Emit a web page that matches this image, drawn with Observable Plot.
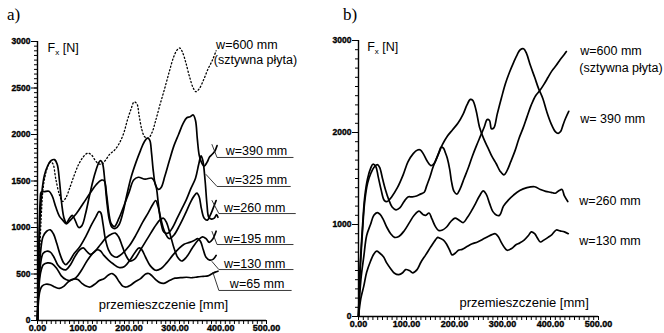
<!DOCTYPE html>
<html><head><meta charset="utf-8">
<script src="https://cdn.jsdelivr.net/npm/d3@7"></script>
<script src="https://cdn.jsdelivr.net/npm/@observablehq/plot@0.6"></script>
<style>
body{margin:0;background:#fff;}
#wrap{position:relative;width:664px;height:333px;overflow:hidden;font-family:"Liberation Sans",Arial,sans-serif;}
.panel{position:absolute;top:0;}
.tag{position:absolute;font-family:"Liberation Serif","Times New Roman",serif;font-size:17px;line-height:1;}
[aria-label$="tick label"] text{stroke:#000;stroke-width:0.35px;}
</style></head>
<body><div id="wrap"></div>
<script>
// ---------- tick labels ----------
const xTicks = [0, 100, 200, 300, 400, 500];
const xMinor = d3.range(0, 501, 10);
const leftYTicks = [0, 500, 1000, 1500, 2000, 2500, 3000];
const leftYMinor = d3.range(0, 3001, 50);
const rightYTicks = [0, 1000, 2000, 3000];
const rightYMinor = d3.range(0, 3001, 100);

// ---------- panel a) series [displacement mm, Fx N] ----------
const a600 = [[0,0],[4,600],[8,1100],[13,1450],[20,1620],[27,1700],[33,1690],[40,1520],[48,1350],[55,1280],[62,1320],[70,1420],[80,1560],[90,1680],[100,1760],[110,1800],[118,1780],[125,1730],[132,1690],[140,1680],[148,1720],[158,1790],[168,1830],[178,1900],[188,2010],[196,2150],[204,2270],[211,2350],[217,2330],[222,2200],[228,2050],[234,1975],[242,1960],[250,2020],[258,2150],[268,2330],[278,2500],[288,2680],[297,2830],[305,2910],[311,2930],[317,2880],[324,2770],[332,2620],[340,2500],[346,2460],[353,2490],[362,2580],[372,2700],[382,2800],[390,2900]];
const a390 = [[0,0],[3,700],[6,1150],[10,1400],[15,1560],[22,1660],[30,1720],[37,1730],[43,1680],[48,1500],[53,1250],[58,1100],[63,1050],[70,1100],[76,1130],[82,1080],[90,1000],[97,1020],[105,1150],[113,1330],[121,1500],[128,1620],[134,1700],[138,1720],[142,1690],[147,1500],[152,1250],[157,1080],[163,1000],[170,990],[178,1030],[186,1150],[195,1350],[205,1550],[215,1700],[225,1830],[233,1920],[240,1960],[245,1940],[249,1800],[253,1600],[258,1450],[264,1410],[270,1430],[278,1550],[288,1720],[298,1880],[308,2000],[318,2120],[326,2180],[333,2190],[340,2210],[345,2150],[349,1950],[353,1780],[358,1700],[364,1660],[370,1700],[376,1760],[382,1790],[387,1820],[392,1880]];
const a325 = [[0,0],[3,800],[6,1300],[8,1380],[15,1385],[25,1390],[32,1340],[40,1220],[48,1120],[55,1080],[63,1040],[72,1080],[85,1150],[100,1260],[115,1370],[128,1460],[140,1510],[146,1500],[151,1350],[156,1150],[161,1040],[168,1010],[178,1100],[190,1250],[200,1380],[210,1510],[220,1540],[235,1520],[250,1530],[258,1460],[264,1250],[270,1040],[276,950],[285,940],[295,1000],[305,1100],[315,1200],[325,1300],[335,1420],[345,1530],[352,1680],[357,1770],[361,1720],[366,1500],[370,1250],[374,1110],[380,1090],[386,1100],[391,1140],[394,1110]];
const a260 = [[0,0],[3,450],[7,750],[12,900],[20,960],[28,975],[35,930],[42,830],[50,700],[57,620],[62,600],[70,640],[80,720],[92,790],[105,900],[118,1030],[128,1120],[134,1170],[138,1160],[143,1040],[148,880],[155,760],[163,700],[172,680],[185,720],[200,800],[215,920],[230,1060],[242,1160],[252,1250],[258,1290],[263,1230],[270,1080],[278,950],[288,880],[298,920],[310,1020],[322,1140],[334,1270],[342,1340],[348,1370],[353,1330],[358,1200],[364,1100],[371,1080],[377,1130],[383,1200],[390,1290]];
const a195 = [[0,0],[3,400],[7,620],[12,720],[20,745],[28,735],[36,680],[44,600],[52,560],[62,545],[72,600],[82,690],[92,760],[100,780],[108,740],[116,710],[125,740],[138,820],[150,890],[162,930],[170,940],[177,900],[185,800],[193,700],[202,640],[212,660],[225,760],[240,880],[255,1000],[267,1080],[275,1100],[282,1050],[290,920],[298,780],[306,680],[315,640],[325,680],[338,780],[350,860],[360,900],[368,880],[375,840],[382,870],[390,960]];
const a130 = [[0,0],[3,350],[7,520],[13,600],[22,620],[32,610],[42,560],[52,480],[62,440],[72,430],[84,460],[96,540],[108,640],[120,720],[130,760],[137,750],[145,700],[155,650],[165,610],[178,570],[190,580],[202,650],[214,740],[222,780],[228,760],[236,680],[246,590],[258,540],[270,560],[282,620],[295,700],[308,770],[320,820],[332,840],[342,860],[350,880],[356,850],[362,760],[368,680],[376,650],[384,660],[390,700]];
const a65 = [[0,0],[3,250],[6,330],[10,370],[18,390],[28,385],[38,360],[48,345],[58,370],[68,420],[78,445],[88,440],[97,400],[106,370],[115,360],[125,390],[135,430],[145,450],[155,490],[163,505],[170,480],[178,420],[186,370],[194,360],[203,380],[214,420],[225,450],[236,500],[243,505],[250,480],[258,440],[266,410],[276,400],[288,430],[300,455],[312,460],[325,465],[338,460],[350,470],[362,475],[372,480],[380,500],[388,520],[394,530]];

// ---------- panel b) series ----------
const b600 = [[0,0],[3,500],[8,950],[13,1300],[19,1500],[26,1620],[30,1655],[36,1630],[41,1520],[47,1380],[54,1260],[60,1250],[69,1300],[81,1400],[93,1540],[103,1680],[114,1770],[123,1810],[129,1810],[136,1760],[143,1690],[151,1640],[157,1660],[166,1760],[175,1870],[185,1960],[196,2030],[207,2100],[218,2200],[226,2300],[233,2360],[238,2350],[245,2240],[252,2060],[261,1930],[270,1830],[278,1740],[287,1660],[295,1580],[303,1540],[309,1580],[317,1680],[326,1800],[334,1930],[343,2050],[351,2170],[360,2300],[369,2400],[377,2450],[386,2520],[395,2600],[403,2670],[412,2730],[420,2790],[429,2850],[433,2880]];
const b390 = [[0,0],[3,450],[8,900],[13,1250],[19,1450],[26,1560],[32,1620],[39,1650],[44,1620],[50,1500],[56,1380],[63,1270],[70,1190],[78,1160],[86,1180],[95,1250],[103,1300],[112,1300],[121,1310],[129,1330],[137,1350],[142,1420],[149,1520],[155,1620],[162,1710],[168,1790],[172,1840],[177,1830],[181,1780],[185,1720],[190,1600],[194,1460],[199,1360],[205,1330],[211,1380],[220,1500],[229,1620],[237,1740],[246,1860],[254,1960],[262,2060],[268,2140],[273,2130],[277,2040],[282,2050],[289,2200],[298,2380],[306,2530],[315,2660],[323,2760],[331,2850],[337,2900],[344,2910],[350,2860],[358,2730],[367,2600],[375,2480],[384,2370],[392,2230],[401,2100],[410,2010],[416,1990],[421,2010],[426,2080],[431,2150],[438,2230]];
const b260 = [[0,0],[5,400],[11,650],[17,880],[25,1000],[32,1100],[39,1130],[45,1110],[52,1050],[59,970],[67,900],[75,860],[84,870],[95,930],[106,1020],[116,1100],[126,1145],[134,1110],[140,1100],[147,1125],[153,1060],[160,980],[167,935],[175,940],[183,970],[192,1030],[201,1070],[209,1050],[218,1020],[226,1070],[235,1145],[244,1230],[252,1310],[260,1365],[266,1330],[273,1230],[280,1140],[288,1100],[294,1100],[302,1200],[313,1270],[323,1320],[336,1370],[351,1400],[367,1410],[379,1380],[390,1360],[401,1350],[410,1340],[418,1370],[424,1380],[429,1310],[436,1250]];
const b130 = [[0,0],[5,200],[11,330],[17,480],[25,600],[32,680],[38,710],[44,690],[52,650],[59,580],[67,520],[75,470],[84,455],[92,475],[98,510],[106,500],[113,475],[122,510],[130,590],[140,670],[151,760],[160,830],[165,860],[170,850],[177,830],[183,790],[190,720],[195,670],[202,690],[208,720],[216,730],[226,760],[237,790],[248,810],[259,840],[270,870],[278,890],[285,900],[291,870],[298,800],[304,750],[310,720],[319,740],[328,780],[336,800],[345,830],[354,880],[360,920],[367,900],[373,850],[379,810],[386,830],[395,860],[403,890],[412,940],[420,930],[429,920],[437,900]];

// ---------- annotations ----------
const leftLabels = ["w=390 mm", "w=325 mm", "w=260 mm", "w=195 mm", "w=130 mm", "w=65 mm"];
const leftLabelX = [411, 411, 407, 407, 407, 420];
const leftLabelY = [1753, 1441, 1150, 817, 548, 323];
const leftLeaders = [
  [[381,1892],[392,1753],[558,1753]],
  [[368,1570],[392,1441],[552,1441]],
  [[381,1290],[396,1150],[563,1150]],
  [[381,957],[392,817],[558,817]],
  [[381,634],[396,548],[558,548]],
  [[383,516],[396,323],[554,323]]
];
const leftTop = ["w=600 mm", "(sztywna płyta)"];
const leftTopX = [390, 385];
const leftTopY = [2957, 2796];
const rightLabels = ["w=600 mm", "(sztywna płyta)", "w= 390 mm", "w=260 mm", "w=130 mm"];
const rightLabelX = [462, 460, 462, 460, 460];
const rightLabelY = [2890, 2705, 2148, 1254, 818];
const yTitle = "Fx [N]";
const xTitle = "przemieszczenie [mm]";

const FONT = "'Liberation Sans', Arial, sans-serif";

function baseMarks(yTicks, yMinor) {
  return [
    Plot.axisY({ticks: yMinor, tickSize: 3, tickFormat: () => "", label: null, strokeWidth: 1}),
    Plot.axisY({ticks: yTicks, tickSize: 6, tickPadding: 1, tickFormat: d => String(d), label: null, fontSize: 8.5, fontWeight: "bold", strokeWidth: 1}),
    Plot.axisX({ticks: xMinor, tickSize: 4, tickFormat: () => "", label: null, strokeWidth: 1}),
    Plot.axisX({ticks: xTicks, tickSize: 0, tickPadding: 4, tickFormat: d => d.toFixed(2), label: null, fontSize: 9, fontWeight: "bold"}),
    Plot.ruleX([0], {y1: 0, y2: 3000, strokeWidth: 1.4}),
    Plot.ruleY([0], {x1: 0, x2: 500, strokeWidth: 1.4})
  ];
}
const solid = s => Plot.line(s, {x: d => d[0], y: d => d[1], stroke: "#000", strokeWidth: 1.7, curve: "catmull-rom", strokeLinejoin: "round"});

const left = Plot.plot({
  width: 332, height: 333,
  marginLeft: 37, marginRight: 66, marginTop: 41, marginBottom: 13,
  x: {domain: [0, 500]}, y: {domain: [0, 3000]},
  style: {fontFamily: FONT, color: "#000", background: "transparent", overflow: "visible"},
  marks: [
    ...baseMarks(leftYTicks, leftYMinor),
    Plot.line(a600, {x: d => d[0], y: d => d[1], stroke: "#000", strokeWidth: 1.3, strokeDasharray: "1.2,2.4", curve: "catmull-rom"}),
    ...[a390, a325, a260, a195, a130, a65].map(solid),
    ...leftLeaders.map(l => Plot.line(l, {x: d => d[0], y: d => d[1], stroke: "#222", strokeWidth: 0.9})),
    Plot.text(leftLabels, {x: (d, i) => leftLabelX[i], y: (d, i) => leftLabelY[i], text: d => d, textAnchor: "start", lineAnchor: "bottom", dy: -2, fontSize: 12.5}),
    Plot.text(leftTop, {x: (d, i) => leftTopX[i], y: (d, i) => leftTopY[i], text: d => d, textAnchor: "start", lineAnchor: "middle", fontSize: 12.5}),
    Plot.text([yTitle], {x: 22, y: 2925, text: d => d, textAnchor: "start", lineAnchor: "middle", fontSize: 12.5}),
    Plot.text([xTitle], {x: 275, y: 165, text: d => d, textAnchor: "middle", lineAnchor: "middle", fontSize: 13})
  ]
});

const right = Plot.plot({
  width: 332, height: 333,
  marginLeft: 26, marginRight: 66, marginTop: 40, marginBottom: 17,
  x: {domain: [0, 500]}, y: {domain: [0, 3000]},
  style: {fontFamily: FONT, color: "#000", background: "transparent", overflow: "visible"},
  marks: [
    ...baseMarks(rightYTicks, rightYMinor),
    ...[b600, b390, b260, b130].map(solid),
    Plot.text(rightLabels, {x: (d, i) => rightLabelX[i], y: (d, i) => rightLabelY[i], text: d => d, textAnchor: "start", lineAnchor: "middle", fontSize: 12.5}),
    Plot.text([yTitle], {x: 18, y: 2933, text: d => d, textAnchor: "start", lineAnchor: "middle", fontSize: 12.5}),
    Plot.text([xTitle], {x: 345, y: 153, text: d => d, textAnchor: "middle", lineAnchor: "middle", fontSize: 13})
  ]
});

// subscript x in the force title
for (const svg of [left, right]) {
  d3.select(svg).selectAll("text").filter(function() { return this.textContent === yTitle; })
    .each(function() {
      const t = d3.select(this);
      t.text(null);
      t.append("tspan").text("F");
      t.append("tspan").attr("font-size", 8).attr("dy", 3).text("x");
      t.append("tspan").attr("dy", -3).text(" [N]");
    });
}

const wrap = document.getElementById("wrap");
left.classList.add("panel"); left.style.left = "0px";
right.classList.add("panel"); right.style.left = "332px";
wrap.append(left, right);
const ta = document.createElement("div"); ta.className = "tag"; ta.style.left = "7px"; ta.style.top = "6px"; ta.textContent = "a)";
const tb = document.createElement("div"); tb.className = "tag"; tb.style.left = "343px"; tb.style.top = "6px"; tb.textContent = "b)";
wrap.append(ta, tb);
</script>
</body></html>
